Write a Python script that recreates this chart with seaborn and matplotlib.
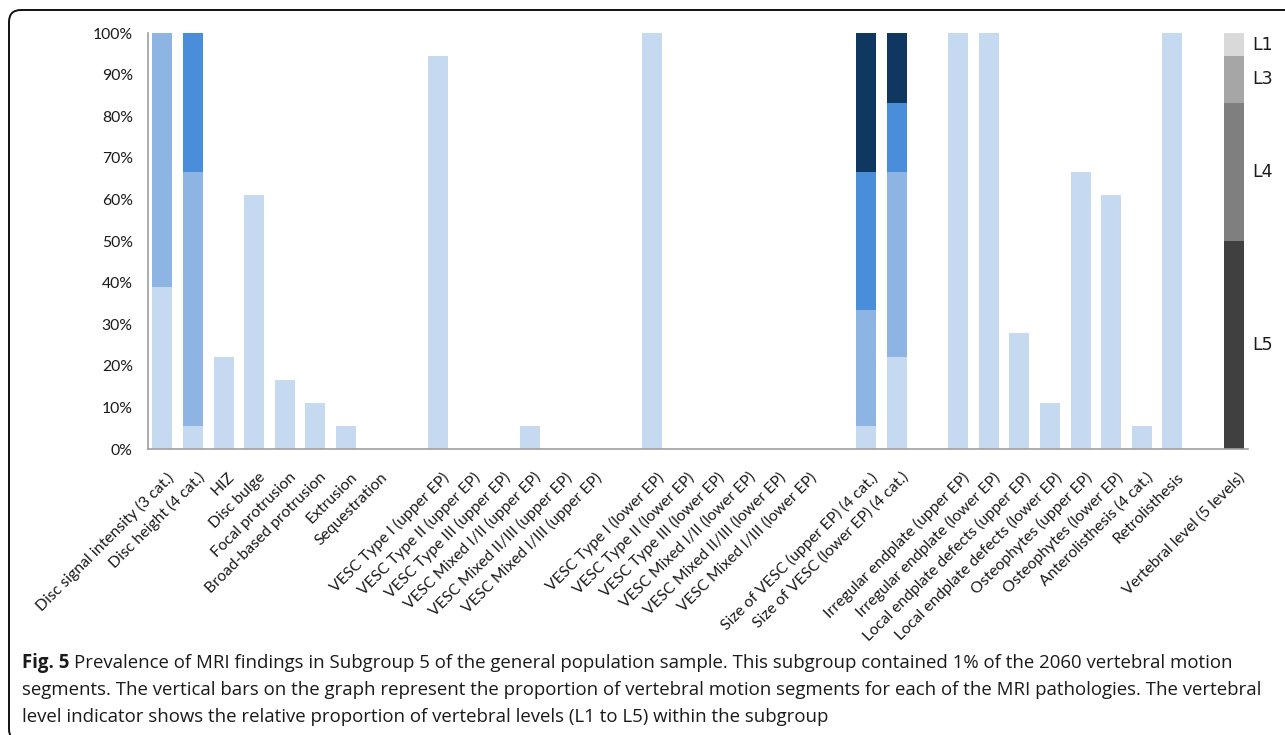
import numpy as np
import pandas as pd
import matplotlib
matplotlib.use("Agg")
import matplotlib.pyplot as plt
import matplotlib.transforms as mtransforms
import seaborn as sns
from matplotlib.patches import FancyBboxPatch

# x-axis slots ("" = empty gap slot)
findings = [
    "Disc signal intensity (3 cat.)", "Disc height (4 cat.)", "HIZ", "Disc bulge",
    "Focal protrusion", "Broad-based protrusion", "Extrusion", "Sequestration", "",
    "VESC Type I (upper EP)", "VESC Type II (upper EP)", "VESC Type III (upper EP)",
    "VESC Mixed I/II (upper EP)", "VESC Mixed II/III (upper EP)", "VESC Mixed I/III (upper EP)", "",
    "VESC Type I (lower EP)", "VESC Type II (lower EP)", "VESC Type III (lower EP)",
    "VESC Mixed I/II (lower EP)", "VESC Mixed II/III (lower EP)", "VESC Mixed I/III (lower EP)", "",
    "Size of VESC (upper EP) (4 cat.)", "Size of VESC (lower EP) (4 cat.)", "",
    "Irregular endplate (upper EP)", "Irregular endplate (lower EP)",
    "Local endplate defects (upper EP)", "Local endplate defects (lower EP)",
    "Osteophytes (upper EP)", "Osteophytes (lower EP)", "Anterolisthesis (4 cat.)",
    "Retrolisthesis", "", "Vertebral level (5 levels)",
]

# percentage of segments in each category (cat1 = lightest, cat4 = darkest)
cat1 = [38.9, 5.6, 22.2, 61.1, 16.7, 11.1, 5.6, 0, 0,
        94.4, 0, 0, 5.6, 0, 0, 0,
        100, 0, 0, 0, 0, 0, 0,
        5.6, 22.2, 0,
        100, 100, 27.8, 11.1, 66.7, 61.1, 5.6, 100, 0, 0]
cat2 = [61.1, 61.1, 0, 0, 0, 0, 0, 0, 0,
        0, 0, 0, 0, 0, 0, 0,
        0, 0, 0, 0, 0, 0, 0,
        27.8, 44.4, 0,
        0, 0, 0, 0, 0, 0, 0, 0, 0, 0]
cat3 = [0, 33.3, 0, 0, 0, 0, 0, 0, 0,
        0, 0, 0, 0, 0, 0, 0,
        0, 0, 0, 0, 0, 0, 0,
        33.3, 16.7, 0,
        0, 0, 0, 0, 0, 0, 0, 0, 0, 0]
cat4 = [0, 0, 0, 0, 0, 0, 0, 0, 0,
        0, 0, 0, 0, 0, 0, 0,
        0, 0, 0, 0, 0, 0, 0,
        33.3, 16.7, 0,
        0, 0, 0, 0, 0, 0, 0, 0, 0, 0]
cat_colors = ["#C5D9F1", "#8EB4E3", "#4A8ED9", "#10375F"]

# vertebral level indicator (bottom to top)
levels = ["L5", "L4", "L3", "L2", "L1"]
level_share = [50.0, 33.3, 11.1, 0.0, 5.6]
level_colors = ["#404040", "#7F7F7F", "#A6A6A6", "#BFBFBF", "#D9D9D9"]

slots = [str(i) for i in range(len(findings))]
df = pd.DataFrame({"slot": slots, "c1": cat1, "c2": cat2, "c3": cat3, "c4": cat4})
df["cum1"] = df["c1"]
df["cum2"] = df["cum1"] + df["c2"]
df["cum3"] = df["cum2"] + df["c3"]
df["cum4"] = df["cum3"] + df["c4"]

sns.set_style("white")
plt.rcParams["font.family"] = ["Lato", "DejaVu Sans"]

fig = plt.figure(figsize=(12.85, 7.35), dpi=100)
ax = fig.add_axes([0.1152, 0.389, 0.8560, 0.566])

bw = 0.65
for col, colour in zip(["cum4", "cum3", "cum2", "cum1"], cat_colors[::-1]):
    sns.barplot(data=df, x="slot", y=col, order=slots, color=colour, saturation=1,
                width=bw, linewidth=0, errorbar=None, ax=ax)

# vertebral level bar, drawn as layered cumulative shares
lev = pd.DataFrame({"slot": slots[-1], "level": levels, "share": level_share})
lev["cum"] = lev["share"].cumsum()
for i in range(len(levels) - 1, -1, -1):
    if lev["share"][i] == 0:
        continue
    sns.barplot(data=lev.iloc[[i]], x="slot", y="cum", order=slots, color=level_colors[i],
                saturation=1, width=bw, linewidth=0, errorbar=None, ax=ax)
    ax.text(len(slots) - 1 + 0.62, lev["cum"][i] - lev["share"][i] / 2, lev["level"][i],
            ha="left", va="center", fontsize=12.5, color="#1a1a1a", family="DejaVu Sans")

ax.set_xlim(-0.47, len(slots) - 0.53)
ax.set_ylim(0, 100)
ax.set_yticks(np.arange(0, 101, 10))
ax.set_yticklabels([f"{v}%" for v in range(0, 101, 10)], fontsize=11.3, color="#1a1a1a")
ax.set_xticks(range(len(slots)))
ax.set_xticklabels(findings, rotation=45, ha="right", va="top", rotation_mode="anchor",
                   fontsize=11.3, color="#1a1a1a")
ax.tick_params(axis="y", length=0, pad=11)
ax.tick_params(axis="x", length=0, pad=15)
shift = mtransforms.ScaledTranslation(4 / 100, 0, fig.dpi_scale_trans)
for lab in ax.get_xticklabels():
    lab.set_transform(lab.get_transform() + shift)
ax.set_xlabel("")
ax.set_ylabel("")
for s in ["top", "right"]:
    ax.spines[s].set_visible(False)
for s in ["left", "bottom"]:
    ax.spines[s].set_color("#A0A0A0")
    ax.spines[s].set_linewidth(1.2)

# caption
cap_font = ["Open Sans", "DejaVu Sans"]
cap_size = 13.4
x0 = 22 / 1285
lead = fig.text(x0, 1 - 663 / 735, "Fig. 5", fontsize=cap_size, fontweight="bold",
                family=cap_font, va="center", color="#1a1a1a")
renderer = fig.canvas.get_renderer()
lead_w = lead.get_window_extent(renderer).width / fig.bbox.width
fig.text(x0 + lead_w + 5 / 1285, 1 - 663 / 735,
         "Prevalence of MRI findings in Subgroup 5 of the general population sample. "
         "This subgroup contained 1% of the 2060 vertebral motion",
         fontsize=cap_size, family=cap_font, va="center", color="#1a1a1a")
fig.text(x0, 1 - 690 / 735,
         "segments. The vertical bars on the graph represent the proportion of vertebral "
         "motion segments for each of the MRI pathologies. The vertebral",
         fontsize=cap_size, family=cap_font, va="center", color="#1a1a1a")
fig.text(x0, 1 - 717 / 735,
         "level indicator shows the relative proportion of vertebral levels (L1 to L5) "
         "within the subgroup",
         fontsize=cap_size, family=cap_font, va="center", color="#1a1a1a")

# rounded frame (open on the right and bottom edges)
frame = FancyBboxPatch((0.09, -0.06), 13.2, 7.31, boxstyle="round,pad=0,rounding_size=0.12",
                       transform=fig.dpi_scale_trans, facecolor="none", edgecolor="#111111",
                       linewidth=1.4)
fig.patches.append(frame)

fig.savefig("out.png", dpi=100)
